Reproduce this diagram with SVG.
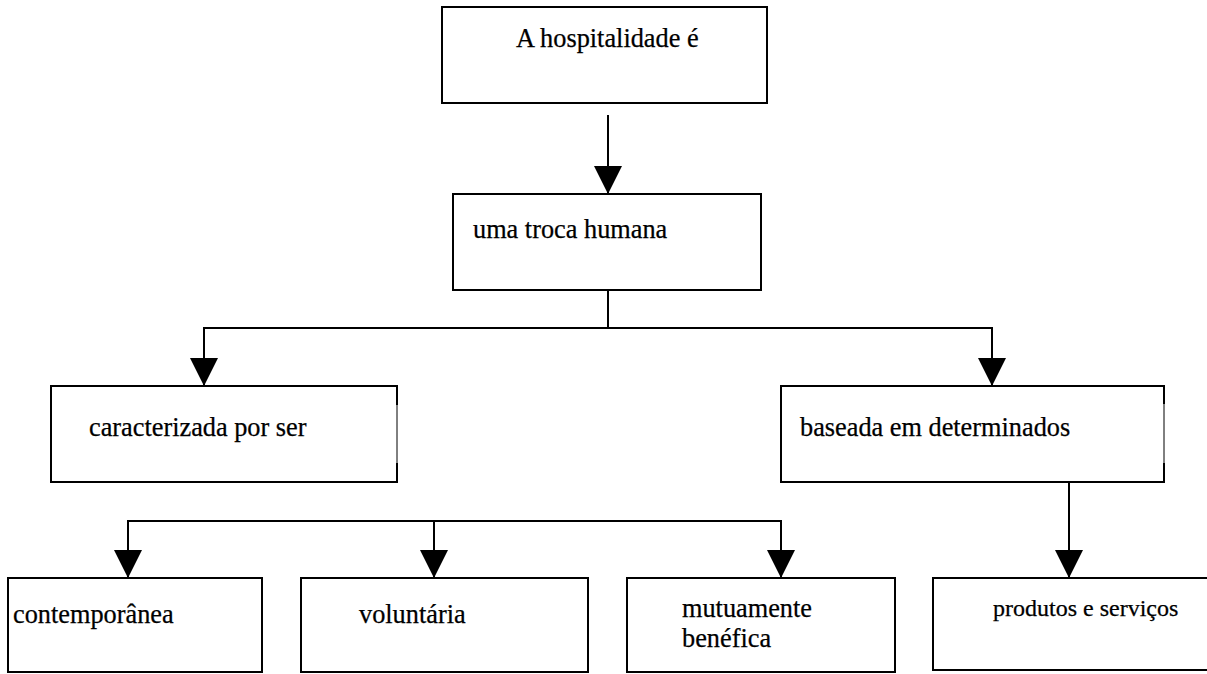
<svg xmlns="http://www.w3.org/2000/svg" width="1207" height="674" viewBox="0 0 1207 674">
  <style>
    .box { fill: #ffffff; stroke: #000000; stroke-width: 2; }
    .thin { fill: none; stroke: #000000; stroke-width: 1; }
    .conn { fill: none; stroke: #000000; stroke-width: 2; }
    .lbl { font-family: 'Liberation Serif', 'Times New Roman', serif; font-size: 26.3px; fill: #000000; stroke: #000000; stroke-width: 0.25; }
    .small { font-size: 24px; }
  </style>
  <defs>
    <marker id="arrow" markerUnits="userSpaceOnUse" markerWidth="28" markerHeight="28" refX="28" refY="14" orient="auto">
      <path d="M0,0 L28,14 L0,28 z" fill="#000000"/>
    </marker>
  </defs>
  <rect width="1207" height="674" fill="#ffffff"/>

  <g id="connectors">
    <line class="conn" x1="608" y1="115" x2="608" y2="194" marker-end="url(#arrow)"/>
    <line class="conn" x1="608" y1="290" x2="608" y2="328"/>
    <polyline class="conn" points="204,328 992,328"/>
    <line class="conn" x1="204" y1="327" x2="204" y2="386" marker-end="url(#arrow)"/>
    <line class="conn" x1="992" y1="327" x2="992" y2="386" marker-end="url(#arrow)"/>
    <line class="conn" x1="1069" y1="482" x2="1069" y2="578" marker-end="url(#arrow)"/>
    <polyline class="conn" points="128,521 781,521"/>
    <line class="conn" x1="128" y1="520" x2="128" y2="578" marker-end="url(#arrow)"/>
    <line class="conn" x1="434" y1="521" x2="434" y2="578" marker-end="url(#arrow)"/>
    <line class="conn" x1="781" y1="520" x2="781" y2="578" marker-end="url(#arrow)"/>
  </g>

  <g id="node-hospitalidade">
    <rect class="box" x="442" y="7" width="325" height="96"/>
    <text class="lbl" x="516" y="47">A hospitalidade é</text>
  </g>

  <g id="node-troca">
    <rect class="box" x="453" y="194" width="308" height="96"/>
    <text class="lbl" x="473" y="238">uma troca humana</text>
  </g>

  <g id="node-caracterizada">
    <path class="box" d="M397,386 H51 V482 H397"/>
    <path class="conn" d="M397,385 V405 M397,463 V483"/>
    <line class="thin" x1="397" y1="405" x2="397" y2="463"/>
    <text class="lbl" x="89" y="436">caracterizada por ser</text>
  </g>

  <g id="node-baseada">
    <path class="box" d="M1164,386 H781 V482 H1164"/>
    <path class="conn" d="M1164,385 V404 M1164,463 V483"/>
    <line class="thin" x1="1164" y1="404" x2="1164" y2="463"/>
    <text class="lbl" x="800" y="436">baseada em determinados</text>
  </g>

  <g id="node-contemporanea">
    <rect class="box" x="8" y="578" width="254" height="94"/>
    <text class="lbl" x="13" y="623">contemporânea</text>
  </g>

  <g id="node-voluntaria">
    <rect class="box" x="301" y="578" width="287" height="94"/>
    <text class="lbl" x="359" y="623">voluntária</text>
  </g>

  <g id="node-mutuamente">
    <rect class="box" x="627" y="578" width="268" height="94"/>
    <text class="lbl" x="682" y="617">mutuamente</text>
    <text class="lbl" x="682" y="647">benéfica</text>
  </g>

  <g id="node-produtos">
    <rect class="box" x="933" y="578" width="290" height="92"/>
    <text class="lbl small" x="993" y="616">produtos e serviços</text>
  </g>
</svg>
